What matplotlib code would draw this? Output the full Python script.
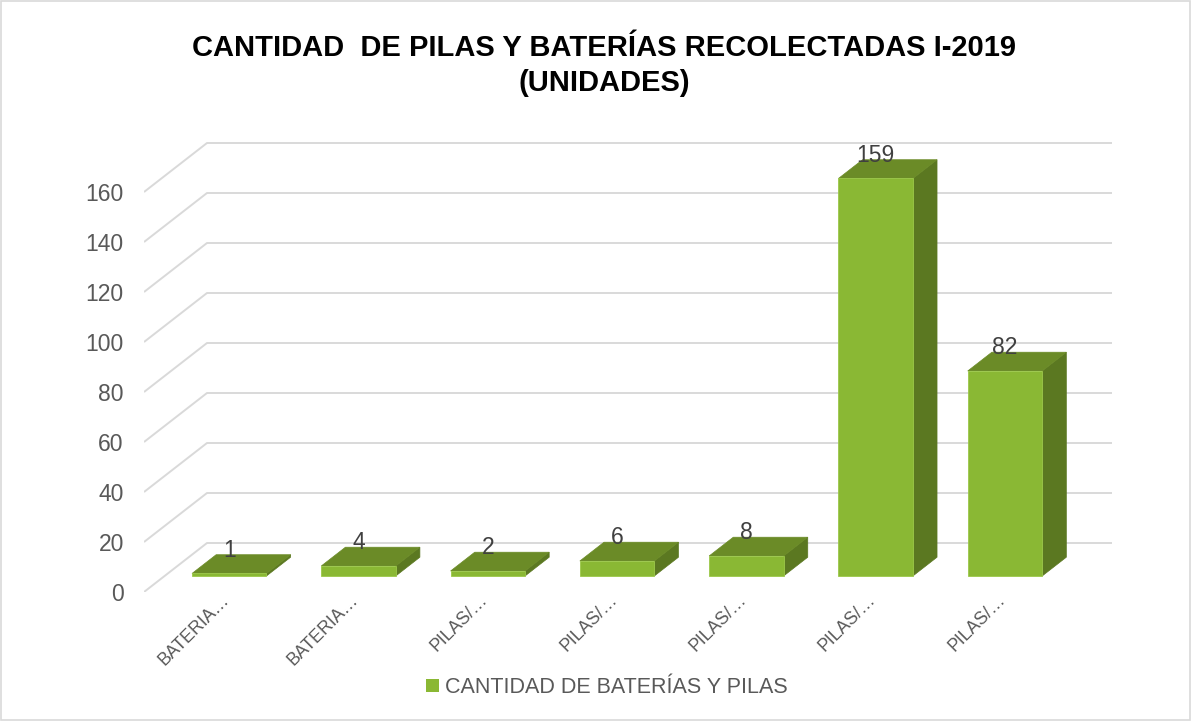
import matplotlib.pyplot as plt
from matplotlib.patches import Polygon, Patch, Rectangle

plt.rcParams['font.family'] = ['Liberation Sans', 'DejaVu Sans']

categories = ["BATERIA…", "BATERIA…", "PILAS/…", "PILAS/…", "PILAS/…", "PILAS/…", "PILAS/…"]
values = [1, 4, 2, 6, 8, 159, 82]
yticks = [0, 20, 40, 60, 80, 100, 120, 140, 160]
series_name = "CANTIDAD DE BATERÍAS Y PILAS"

front_col = "#8ab834"
top_col = "#6b8b27"
side_col = "#5b7821"
grid_col = "#d9d9d9"

W, H = 1192, 721
fig = plt.figure(figsize=(W / 100, H / 100), dpi=100)
ax = fig.add_axes([144 / W, 129 / H, 968 / W, 450 / H])

n = len(values)
DX = 63 / 129.3   # depth shift in category units
DY = 19.6         # depth shift in value units
d0, d1 = 0.327, 0.71
half = 0.288

ax.set_xlim(0, n + DX)
ax.set_ylim(0, 180)


def proj(x, y, d):
    return (x + d * DX, y + d * DY)


# walls / gridlines
for v in yticks:
    ax.plot([0, DX, n + DX], [v, v + DY, v + DY], color=grid_col, lw=1.4,
            zorder=1, solid_capstyle="butt")

for i, v in enumerate(values):
    c = i + 0.5
    xl, xr = c - half, c + half
    front = [proj(xl, 0, d0), proj(xr, 0, d0), proj(xr, v, d0), proj(xl, v, d0)]
    top = [proj(xl, v, d0), proj(xr, v, d0), proj(xr, v, d1), proj(xl, v, d1)]
    side = [proj(xr, 0, d0), proj(xr, v, d0), proj(xr, v, d1), proj(xr, 0, d1)]
    ax.add_patch(Polygon(side, closed=True, fc=side_col, ec=side_col, lw=0.5, zorder=3))
    ax.add_patch(Polygon(top, closed=True, fc=top_col, ec=top_col, lw=0.5, zorder=3))
    ax.add_patch(Polygon(front, closed=True, fc=front_col, ec="#9cc84a", lw=0.6, zorder=4))
    lx, ly = proj(c, v, d1)
    ax.text(c + d0 * DX, ly - 0.8, str(v), ha="center", va="baseline",
            fontsize=16.5, color="#404040", zorder=6)

ax.set_yticks(yticks)
ax.set_yticklabels([str(t) for t in yticks])
ax.set_xticks([i + 0.64 for i in range(n)])
ax.set_xticklabels(categories, rotation=45, ha="right", va="center",
                   rotation_mode="anchor")
ax.tick_params(axis="y", length=0, pad=14.5, labelsize=16.5, labelcolor="#595959")
ax.tick_params(axis="x", length=0, pad=4, labelsize=12.8, labelcolor="#595959")
for s in ax.spines.values():
    s.set_visible(False)

fig.text(0.507, 0.934, "CANTIDAD  DE PILAS Y BATERÍAS RECOLECTADAS I-2019",
         ha="center", va="center", fontsize=21, fontweight="bold", color="black")
fig.text(0.507, 0.885, "(UNIDADES)", ha="center", va="center",
         fontsize=21, fontweight="bold", color="black")

handle = Patch(facecolor=front_col, edgecolor="none")
fig.legend([handle], [series_name], loc="center", bbox_to_anchor=(0.509, 0.0465),
           frameon=False, fontsize=15.5, handlelength=0.6, handleheight=0.6,
           handletextpad=0.3, labelcolor="#595959")

fig.patches.append(Rectangle((0.001, 0.001), 0.997, 0.997, transform=fig.transFigure,
                             fill=False, ec=grid_col, lw=1.2))

fig.savefig("out.png", dpi=100)
